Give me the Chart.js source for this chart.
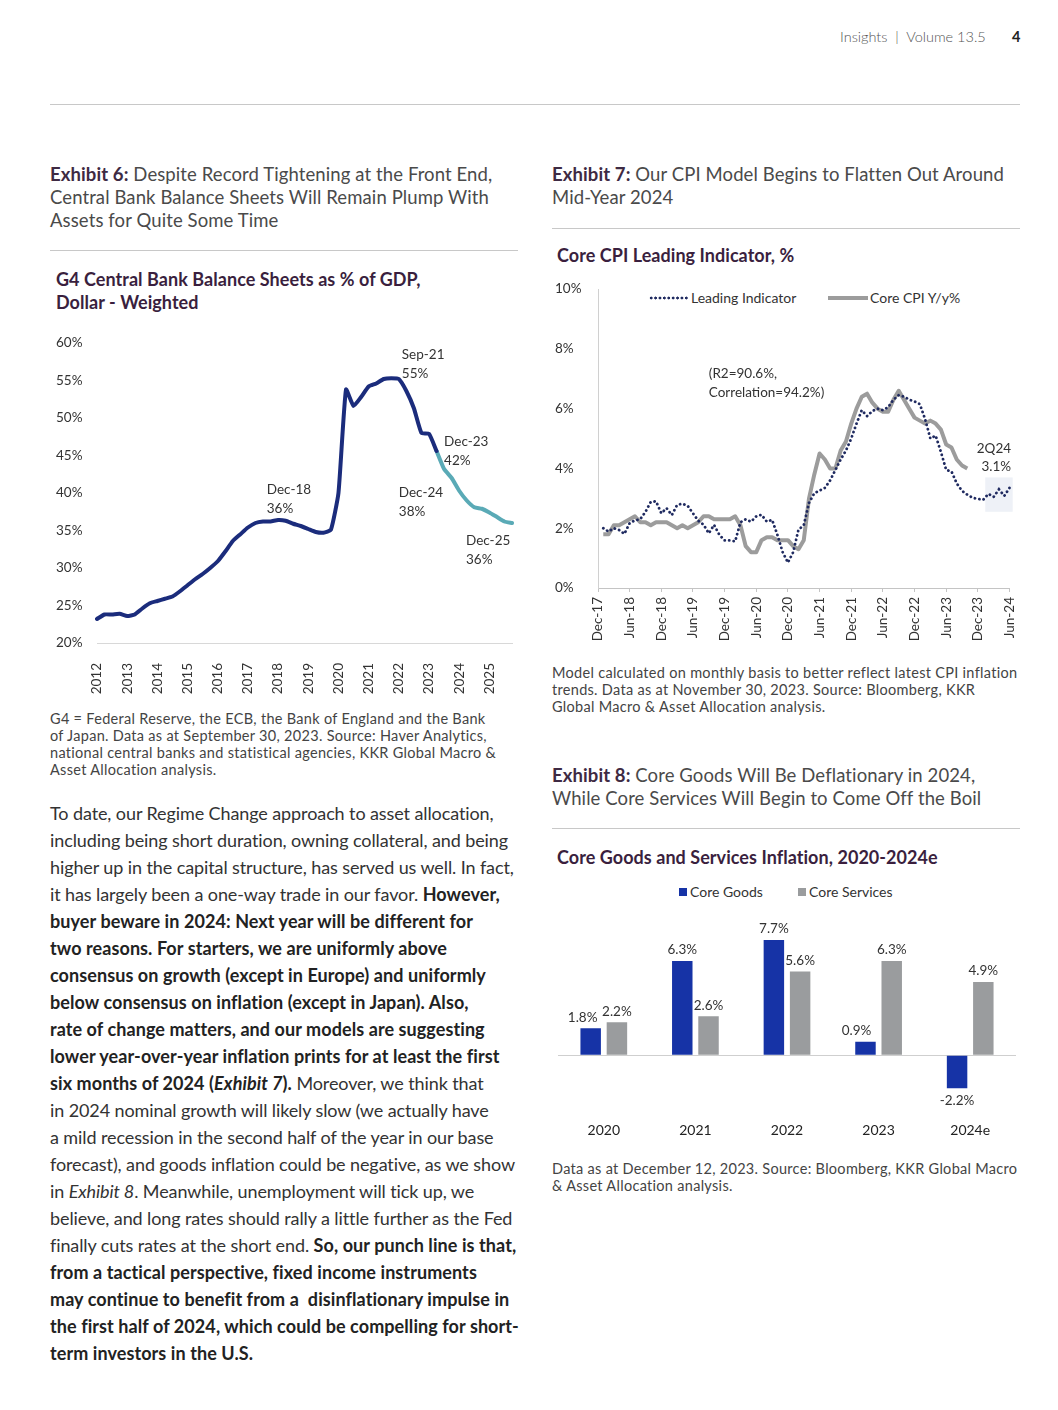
<!DOCTYPE html>
<html>
<head>
<meta charset="utf-8">
<title>Insights | Volume 13.5</title>
<script src="https://cdn.jsdelivr.net/npm/chart.js@4.4.1/dist/chart.umd.min.js"></script>
<style>
  html, body { margin: 0; padding: 0; background: #fff; }
  body { width: 1058px; height: 1410px; position: relative; overflow: hidden; font-family: 'Lato', sans-serif; color: #333; }
  .rule { position: absolute; height: 1px; background: #c8c8c8; }
  .ex-title { position: absolute; font-size: 18.5px; line-height: 23px; color: #4a4a4a; white-space: nowrap; letter-spacing: 0.1px; }
  .ex-title b { color: #3e2a43; }
  .chart-title { position: absolute; font-size: 18px; line-height: 23px; font-weight: 700; color: #3a1f3e; white-space: nowrap; letter-spacing: 0.05px; }
  .note { position: absolute; font-size: 14.5px; line-height: 17px; color: #444; white-space: nowrap; letter-spacing: 0.3px; }
  .body-text { position: absolute; font-size: 18px; line-height: 27px; color: #333; white-space: nowrap; letter-spacing: -0.1px; }
  .body-text b { color: #222; letter-spacing: 0.08px; }
  canvas { position: absolute; }
  .lg { position: absolute; font-size: 14px; line-height: 18px; color: #333; white-space: nowrap; }
</style>
</head>
<body>

<!-- header -->
<div class="lg" style="left:840px; top:28px; font-size:14.5px; color:#555; font-weight:300;">Insights&nbsp; |&nbsp; Volume 13.5</div>
<div class="lg" style="left:1012px; top:28px; font-size:14.5px; font-weight:700; color:#222;">4</div>
<div class="rule" style="left:50px; top:104px; width:970px;"></div>

<!-- Exhibit 6 -->
<div class="ex-title" style="left:50px; top:163px;"><b>Exhibit 6:</b> Despite Record Tightening at the Front End,<br>Central Bank Balance Sheets Will Remain Plump With<br>Assets for Quite Some Time</div>
<div class="rule" style="left:50px; top:250px; width:468px;"></div>
<div class="chart-title" style="left:56px; top:268px;">G4 Central Bank Balance Sheets as % of GDP,<br>Dollar - Weighted</div>
<canvas id="chart-bs" width="462" height="370" style="left:56px; top:330px;"></canvas>
<div class="note" style="left:50px; top:710px;">G4 = Federal Reserve, the ECB, the Bank of England and the Bank<br>of Japan. Data as at September 30, 2023. Source: Haver Analytics,<br>national central banks and statistical agencies, KKR Global Macro &amp;<br>Asset Allocation analysis.</div>

<div class="body-text" style="left:50px; top:800px;">
To date, our Regime Change approach to asset allocation,<br>
including being short duration, owning collateral, and being<br>
higher up in the capital structure, has served us well. In fact,<br>
it has largely been a one-way trade in our favor. <b>However,</b><br>
<b>buyer beware in 2024: Next year will be different for</b><br>
<b>two reasons. For starters, we are uniformly above</b><br>
<b>consensus on growth (except in Europe) and uniformly</b><br>
<b>below consensus on inflation (except in Japan). Also,</b><br>
<b>rate of change matters, and our models are suggesting</b><br>
<b>lower year-over-year inflation prints for at least the first</b><br>
<b>six months of 2024 (<i>Exhibit 7</i>).</b> Moreover, we think that<br>
in 2024 nominal growth will likely slow (we actually have<br>
a mild recession in the second half of the year in our base<br>
forecast), and goods inflation could be negative, as we show<br>
in <i>Exhibit 8</i>. Meanwhile, unemployment will tick up, we<br>
believe, and long rates should rally a little further as the Fed<br>
finally cuts rates at the short end. <b>So, our punch line is that,</b><br>
<b>from a tactical perspective, fixed income instruments</b><br>
<b>may continue to benefit from a&nbsp; disinflationary impulse in</b><br>
<b>the first half of 2024, which could be compelling for short-</b><br>
<b>term investors in the U.S.</b>
</div>

<!-- Exhibit 7 -->
<div class="ex-title" style="left:552px; top:163px;"><b>Exhibit 7:</b> Our CPI Model Begins to Flatten Out Around<br>Mid-Year 2024</div>
<div class="rule" style="left:552px; top:228px; width:468px;"></div>
<div class="chart-title" style="left:557px; top:244px;">Core CPI Leading Indicator, %</div>
<span class="lg" style="left:649px; top:296px; width:40px; height:4px; background:radial-gradient(circle, #1f2a60 1.3px, transparent 1.7px) 0 0/4.4px 4px repeat-x;"></span>
<span class="lg" style="left:691px; top:289px;">Leading Indicator</span>
<span class="lg" style="left:828px; top:296px; width:40px; height:4px; background:#9c9c9c;"></span>
<span class="lg" style="left:870px; top:289px;">Core CPI Y/y%</span>
<canvas id="chart-cpi" width="465" height="367" style="left:555px; top:278px;"></canvas>
<div class="note" style="left:552px; top:664px;">Model calculated on monthly basis to better reflect latest CPI inflation<br>trends. Data as at November 30, 2023. Source: Bloomberg, KKR<br>Global Macro &amp; Asset Allocation analysis.</div>

<!-- Exhibit 8 -->
<div class="ex-title" style="left:552px; top:764px;"><b>Exhibit 8:</b> Core Goods Will Be Deflationary in 2024,<br>While Core Services Will Begin to Come Off the Boil</div>
<div class="rule" style="left:552px; top:828px; width:468px;"></div>
<div class="chart-title" style="left:557px; top:846px;">Core Goods and Services Inflation, 2020-2024e</div>
<span class="lg" style="left:679px; top:888px; width:8px; height:8px; background:#1633a6;"></span>
<span class="lg" style="left:690px; top:883px;">Core Goods</span>
<span class="lg" style="left:798px; top:888px; width:8px; height:8px; background:#9a9c9e;"></span>
<span class="lg" style="left:809px; top:883px;">Core Services</span>
<canvas id="chart-infl" width="468" height="244" style="left:552px; top:905px;"></canvas>
<div class="note" style="left:552px; top:1160px;">Data as at December 12, 2023. Source: Bloomberg, KKR Global Macro<br>&amp; Asset Allocation analysis.</div>

<script>
// ══════════════════════════════════════════════
// DATA
// ══════════════════════════════════════════════

// ── Exhibit 6: G4 balance sheets, % of GDP, quarterly 2012–2025 ──
const bsYears = ['2012','2013','2014','2015','2016','2017','2018','2019','2020','2021','2022','2023','2024','2025'];
const bsActual = [
  23.2, 23.8, 23.8, 23.9,  23.6, 23.8, 24.6, 25.3,  25.6, 25.9, 26.2, 26.9,
  27.7, 28.5, 29.2, 30.0,  30.9, 32.2, 33.6, 34.5,  35.4, 36.0, 36.2, 36.2,
  36.4, 36.3, 35.9, 35.6,  35.2, 34.8, 34.7, 35.1,  40.0, 53.8, 51.6, 52.8,
  54.2, 54.6, 55.2, 55.3,  55.2, 53.6, 51.3, 48.0,  47.9, 45.6
];
// projection starts at the last actual quarter
const bsProjected = [45.6, 43.2, 42.0, 40.3, 39.0, 38.1, 37.9, 37.4, 36.8, 36.2, 36.0];
const bsTicks = [20, 25, 30, 35, 40, 45, 50, 55, 60];

// ── Exhibit 7: Core CPI leading indicator, monthly Dec-17 .. Jun-24 ──
const monthNames = ['Jan','Feb','Mar','Apr','May','Jun','Jul','Aug','Sep','Oct','Nov','Dec'];
// Jan-18 .. Jun-24
const leadingIndicator = [
  2.00, 1.89, 2.00, 1.94, 1.81, 2.17, 2.26, 2.30, 2.55, 2.88, 2.90, 2.50,
  2.67, 2.44, 2.78, 2.82, 2.75, 2.50, 2.25, 2.12, 1.83, 2.11, 1.78, 1.59,
  1.59, 1.56, 2.20, 2.30, 2.22, 2.40, 2.45, 2.22, 2.28, 1.78, 1.20, 0.85,
  1.20, 1.95, 2.10, 2.85, 3.17, 3.26, 3.35, 3.60, 3.95, 4.30, 4.60, 5.00,
  5.50, 5.95, 5.75, 5.92, 6.00, 5.95, 6.05, 6.30, 6.45, 6.40, 6.30, 6.24,
  6.15, 5.65, 5.00, 5.10, 4.55, 3.95, 3.90, 3.50, 3.25, 3.12, 3.02, 2.98,
  2.95, 3.15, 3.05, 3.30, 3.08, 3.35
];
// Jan-18 .. Oct-23
const coreCpi = [
  1.8, 1.8, 2.1, 2.1, 2.2, 2.3, 2.4, 2.2, 2.2, 2.1, 2.2, 2.2,
  2.2, 2.1, 2.0, 2.1, 2.0, 2.1, 2.2, 2.4, 2.4, 2.3, 2.3, 2.3,
  2.3, 2.4, 2.1, 1.4, 1.2, 1.2, 1.6, 1.7, 1.7, 1.6, 1.6, 1.6,
  1.4, 1.3, 1.6, 3.0, 3.8, 4.5, 4.3, 4.0, 4.0, 4.6, 4.9, 5.5,
  6.0, 6.4, 6.5, 6.2, 6.0, 5.9, 5.9, 6.3, 6.6, 6.3, 6.0, 5.7,
  5.6, 5.5, 5.6, 5.5, 5.3, 4.8, 4.7, 4.3, 4.1, 4.0
];
const cpiTicks = [0, 2, 4, 6, 8, 10];

// ── Exhibit 8: Core goods vs services inflation ──
const inflYears     = ['2020', '2021', '2022', '2023', '2024e'];
const coreGoods     = [1.8, 6.3, 7.7, 0.9, -2.2];
const coreServices  = [2.2, 2.6, 5.6, 6.3, 4.9];

// ══════════════════════════════════════════════
// HELPERS / PLUGINS
// ══════════════════════════════════════════════
const NAVY  = '#1b2c7c';
const TEAL  = '#5aaab6';
const GREY  = '#9c9c9c';
const DOTS  = '#1f2a60';

// rotated labels otherwise eat into the plot on the right
function noEdgePadding(s) { s.paddingLeft = 0; s.paddingRight = 0; }

// free text placed in data coordinates
const notesPlugin = {
  id: 'notes',
  afterDatasetsDraw(chart, args, opts) {
    const { ctx, scales: { x, y } } = chart;
    ctx.save();
    ctx.font = opts.font;
    ctx.fillStyle = opts.color;
    ctx.textBaseline = 'middle';
    opts.items.forEach(n => {
      ctx.textAlign = n.align || 'left';
      const px = x.getPixelForValue(n.x);
      const py = y.getPixelForValue(n.y);
      n.lines.forEach((line, k) => ctx.fillText(line, px, py + k * opts.lineGap));
    });
    ctx.restore();
  }
};

// pale box behind the 2Q24 end of the model
const highlightPlugin = {
  id: 'highlight',
  beforeDatasetsDraw(chart, args, opts) {
    const { ctx, scales: { x, y } } = chart;
    const x0 = x.getPixelForValue(opts.from), x1 = x.getPixelForValue(opts.to);
    const y0 = y.getPixelForValue(opts.top),  y1 = y.getPixelForValue(opts.bottom);
    ctx.save();
    ctx.fillStyle = opts.color;
    ctx.fillRect(x0, y0, x1 - x0, y1 - y0);
    ctx.restore();
  }
};

// value labels over / under bars
const barLabelPlugin = {
  id: 'barLabels',
  afterDatasetsDraw(chart, args, opts) {
    const { ctx } = chart;
    ctx.save();
    ctx.font = opts.font;
    ctx.fillStyle = opts.color;
    ctx.textAlign = 'center';
    ctx.textBaseline = 'middle';
    chart.data.datasets.forEach((ds, di) => {
      chart.getDatasetMeta(di).data.forEach((bar, i) => {
        const v = ds.data[i];
        const nudge = (opts.nudge && opts.nudge[di + '-' + i]) || 0;
        const ty = v >= 0 ? bar.y - opts.gap : bar.y + opts.gap + 1;
        ctx.fillText(v.toFixed(1) + '%', bar.x + nudge, ty);
      });
    });
    ctx.restore();
  }
};

// ══════════════════════════════════════════════
// CHARTS
// ══════════════════════════════════════════════
function initCharts() {
  Chart.defaults.font.family = "'Lato', sans-serif";
  Chart.defaults.font.size   = 13.5;
  Chart.defaults.color       = '#333';
  Chart.defaults.animation   = false;
  Chart.defaults.responsive  = false;
  Chart.defaults.plugins.legend.display  = false;
  Chart.defaults.plugins.tooltip.enabled = false;

  // ── Exhibit 6: balance sheets line ──
  const bsLabels = [];
  bsYears.forEach(yr => bsLabels.push(yr, '', '', ''));
  const nQ = bsActual.length + bsProjected.length - 1;
  bsLabels.length = nQ;

  new Chart(document.getElementById('chart-bs'), {
    type: 'line',
    data: {
      labels: bsLabels,
      datasets: [
        {
          data: bsActual.concat(Array(nQ - bsActual.length).fill(null)),
          borderColor: NAVY, borderWidth: 4, pointRadius: 0,
          borderJoinStyle: 'round', borderCapStyle: 'round', tension: 0.15,
        },
        {
          data: Array(bsActual.length - 1).fill(null).concat(bsProjected),
          borderColor: TEAL, borderWidth: 4, pointRadius: 0,
          borderJoinStyle: 'round', borderCapStyle: 'round', tension: 0.15,
        },
      ]
    },
    options: {
      layout: { padding: { top: 13, right: 6 } },
      scales: {
        x: {
          grid: { display: false },
          border: { color: '#d8d8d8' },
          ticks: { autoSkip: false, minRotation: 90, maxRotation: 90, padding: 12, color: '#333' },
          afterFit(s) { s.height = 57; noEdgePadding(s); },
        },
        y: {
          min: bsTicks[0], max: bsTicks[bsTicks.length - 1],
          afterBuildTicks(s) { s.ticks = bsTicks.map(v => ({ value: v })); },
          grid: { display: false },
          border: { display: false },
          ticks: { crossAlign: 'far', callback: v => v + '%', color: '#333' },
          afterFit(s) { s.width = 41; },
        },
      },
      plugins: {
        notes: {
          font: "13.5px 'Lato', sans-serif", color: '#333', lineGap: 19,
          items: [
            { lines: ['Sep-21', '55%'], x: 40.4, y: 58.5 },
            { lines: ['Dec-18', '36%'], x: 22.5, y: 40.5 },
            { lines: ['Dec-23', '42%'], x: 46.0, y: 46.9 },
            { lines: ['Dec-24', '38%'], x: 40.0, y: 40.0 },
            { lines: ['Dec-25', '36%'], x: 48.9, y: 33.7 },
          ]
        }
      }
    },
    plugins: [notesPlugin]
  });

  // ── Exhibit 7: CPI leading indicator ──
  const nM = leadingIndicator.length + 1;
  const cpiLabels = [];
  for (let k = 0; k < nM; k++) {
    const m = (11 + k) % 12;
    const yr = 17 + Math.floor((11 + k) / 12);
    cpiLabels.push(monthNames[m] + '-' + yr);
  }

  new Chart(document.getElementById('chart-cpi'), {
    type: 'line',
    data: {
      labels: cpiLabels,
      datasets: [
        {
          data: [null].concat(leadingIndicator),
          borderColor: DOTS, borderWidth: 2.8, borderDash: [0.1, 4.4],
          borderCapStyle: 'round', pointRadius: 0, tension: 0,
        },
        {
          data: [null].concat(coreCpi),
          borderColor: GREY, borderWidth: 4, pointRadius: 0,
          borderJoinStyle: 'round', tension: 0,
        },
      ]
    },
    options: {
      layout: { padding: { top: 10, right: 10.5 } },
      scales: {
        x: {
          grid: { display: true, drawOnChartArea: false, drawTicks: true, tickLength: 4, color: '#c4c4c4' },
          border: { color: '#c4c4c4' },
          ticks: {
            autoSkip: false, minRotation: 90, maxRotation: 90, padding: 5, color: '#333',
            callback(v, i) { return i % 6 === 0 ? this.getLabelForValue(v) : null; },
          },
          afterFit(s) { s.height = 57; noEdgePadding(s); },
        },
        y: {
          min: cpiTicks[0], max: cpiTicks[cpiTicks.length - 1],
          afterBuildTicks(s) { s.ticks = cpiTicks.map(v => ({ value: v })); },
          grid: { display: false },
          border: { color: '#d0d0d0' },
          ticks: { crossAlign: 'far', callback: v => v + '%', color: '#333' },
          afterFit(s) { s.width = 43; },
        },
      },
      plugins: {
        highlight: { from: 73.4, to: 78.6, top: 3.7, bottom: 2.55, color: '#eef1f7' },
        notes: {
          font: "13.5px 'Lato', sans-serif", color: '#333', lineGap: 18.5,
          items: [
            { lines: ['(R2=90.6%,', 'Correlation=94.2%)'], x: 21.0, y: 7.17 },
            { lines: ['2Q24', '3.1%'], x: 78.3, y: 4.67, align: 'right' },
          ]
        }
      }
    },
    plugins: [highlightPlugin, notesPlugin]
  });

  // ── Exhibit 8: goods vs services bars ──
  new Chart(document.getElementById('chart-infl'), {
    type: 'bar',
    data: {
      labels: inflYears,
      datasets: [
        { data: coreGoods,    backgroundColor: '#1633a6', categoryPercentage: 0.573, barPercentage: 0.78 },
        { data: coreServices, backgroundColor: '#9a9c9e', categoryPercentage: 0.573, barPercentage: 0.78 },
      ]
    },
    options: {
      layout: { padding: { top: 10, left: 6, right: 4 } },
      scales: {
        x: {
          grid: { display: false, drawTicks: false },
          border: { display: false },
          ticks: { font: { size: 14 }, color: '#222', padding: 10 },
        },
        y: {
          min: -3.8, max: 9.37,
          ticks: { display: false, stepSize: 1 },
          grid: { drawTicks: false, color: c => c.tick.value === 0 ? '#cfcfcf' : 'rgba(0,0,0,0)' },
          border: { display: false },
          afterFit(s) { s.width = 0; },
        },
      },
      plugins: {
        barLabels: {
          font: "13.5px 'Lato', sans-serif", color: '#333', gap: 11,
          nudge: { '0-0': -8, '0-3': -9 }
        }
      }
    },
    plugins: [barLabelPlugin]
  });
}

// ══════════════════════════════════════════════
// INIT
// ══════════════════════════════════════════════
document.addEventListener('DOMContentLoaded', () => {
  initCharts();
});
</script>
</body>
</html>
